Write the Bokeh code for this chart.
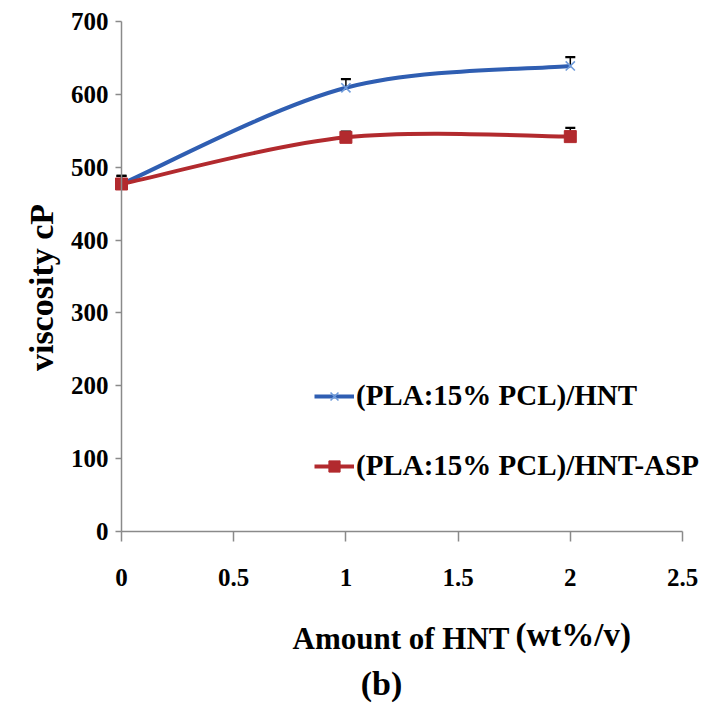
import math
from bokeh.plotting import figure
from bokeh.models import (ColumnDataSource, FixedTicker, Legend, LegendItem, Label,
                          Whisker, TeeHead, Range1d)
from bokeh.embed import file_html
from bokeh.resources import INLINE

# ---- data ----
hnt = [0, 1, 2]
visc_hnt = [477, 609, 639]
err_hnt = [11, 12, 12]
visc_asp = [477, 541, 542]
err_asp = [11, 8, 12]
x_ticks = [0, 0.5, 1, 1.5, 2, 2.5]
x_tick_labels = ["0", "0.5", "1", "1.5", "2", "2.5"]
y_ticks = [0, 100, 200, 300, 400, 500, 600, 700]
series_names = ["(PLA:15% PCL)/HNT", "(PLA:15% PCL)/HNT-ASP"]
x_title = "Amount of HNT"
x_unit = "(wt%/v)"
panel_tag = "(b)"
y_title = "viscosity cP"

BLUE = "#2F5EB2"
BLUE_M = "#6F9BDA"
RED = "#B22A2E"
AXIS = "#8A8A8A"
FONT = "Liberation Serif"

# ---- layout geometry (page pixels) ----
W, H = 703, 703
ORIGIN = 1                       # page offset of the canvas
X0_PX, X25_PX = 122, 683         # page px of x = 0 and x = 2.5
Y0_PX, Y700_PX = 532, 22         # page px of y = 0 and y = 700

def xd(px):   # page pixel -> data x
    return (px - X0_PX) * 2.5 / (X25_PX - X0_PX)

def yd(py):   # page pixel -> data y
    return (Y0_PX - py) * 700 / (Y0_PX - Y700_PX)

p = figure(width=W, height=H, output_backend="svg", toolbar_location=None,
           x_range=Range1d(xd(ORIGIN), xd(ORIGIN + W)),
           y_range=Range1d(yd(ORIGIN + H), yd(ORIGIN)),
           min_border_left=0, min_border_right=0, min_border_top=0,
           min_border_bottom=0)
p.outline_line_color = None
p.grid.visible = False
p.background_fill_color = "white"

def smooth(xs, ys):
    """Excel-like smoothed line: Catmull-Rom control points for bezier segments."""
    n = len(xs)
    out = dict(x0=[], y0=[], x1=[], y1=[], cx0=[], cy0=[], cx1=[], cy1=[])
    for i in range(n - 1):
        ip = max(i - 1, 0)
        inn = min(i + 2, n - 1)
        out["x0"].append(xs[i]); out["y0"].append(ys[i])
        out["x1"].append(xs[i + 1]); out["y1"].append(ys[i + 1])
        out["cx0"].append(xs[i] + (xs[i + 1] - xs[ip]) / 6)
        out["cy0"].append(ys[i] + (ys[i + 1] - ys[ip]) / 6)
        out["cx1"].append(xs[i + 1] - (xs[inn] - xs[i]) / 6)
        out["cy1"].append(ys[i + 1] - (ys[inn] - ys[i]) / 6)
    return ColumnDataSource(out)

items = []
for ys, errs, col, mk, name in [
        (visc_hnt, err_hnt, BLUE, "x", series_names[0]),
        (visc_asp, err_asp, RED, "square", series_names[1])]:
    src = ColumnDataSource(dict(x=hnt, y=ys,
                                hi=[a + b for a, b in zip(ys, errs)]))
    w = Whisker(base="x", lower="y", upper="hi", source=src, dimension="height",
                line_color="black", line_width=1.5, level="underlay",
                upper_head=TeeHead(size=10, line_color="black", line_width=2.2),
                lower_head=None)
    p.add_layout(w)
    bz = p.bezier(x0="x0", y0="y0", x1="x1", y1="y1", cx0="cx0", cy0="cy0",
                  cx1="cx1", cy1="cy1", source=smooth(hnt, ys),
                  line_color=col, line_width=4)
    if mk == "x":
        sc = p.scatter(x="x", y="y", source=src, marker="x", size=13,
                       line_color=BLUE_M, line_width=1.6)
    else:
        sc = p.scatter(x="x", y="y", source=src, marker="square", size=12,
                       fill_color=RED, line_color=RED)
    items.append(LegendItem(label=name, renderers=[bz, sc]))

legend = Legend(items=items, location=(314, 221), orientation="vertical",
                background_fill_alpha=0, border_line_color=None,
                label_text_font=FONT, label_text_font_style="bold",
                label_text_font_size="29px", label_text_color="black",
                glyph_width=40, glyph_height=28, label_height=28,
                spacing=37, padding=0, margin=0, label_standoff=2)
p.add_layout(legend, "center")

# axes (placed at the data origin, inside the frame)
for ax in (p.xaxis[0], p.yaxis[0]):
    ax.axis_line_color = AXIS
    ax.axis_line_width = 1.5
    ax.major_tick_line_color = AXIS
    ax.major_tick_line_width = 1.5
    ax.minor_tick_line_color = None
    ax.major_tick_in = 0
    ax.major_label_text_font = FONT
    ax.major_label_text_font_style = "bold"
    ax.major_label_text_font_size = "25px"
    ax.major_label_text_color = "black"

p.xaxis.fixed_location = 0
p.xaxis.bounds = (0, 2.5)
p.xaxis.ticker = FixedTicker(ticks=x_ticks)
p.xaxis.major_label_overrides = {t: l for t, l in zip(x_ticks, x_tick_labels)}
p.xaxis.major_tick_out = 10
p.xaxis.major_label_standoff = 27

p.yaxis.fixed_location = 0
p.yaxis.bounds = (0, 700)
p.yaxis.ticker = FixedTicker(ticks=y_ticks)
p.yaxis.major_tick_out = 6
p.yaxis.major_label_standoff = 7

# axis titles and panel label
p.add_layout(Label(x=xd(42), y=yd(288), text=y_title, angle=math.pi / 2,
                   text_align="center", text_baseline="middle",
                   text_font=FONT, text_font_style="bold",
                   text_font_size="34px", text_color="black"))
p.add_layout(Label(x=xd(293), y=yd(639), text=x_title, text_baseline="alphabetic",
                   text_font=FONT, text_font_style="bold",
                   text_font_size="31px", text_color="black"))
p.add_layout(Label(x=xd(516), y=yd(635), text=x_unit, text_baseline="alphabetic",
                   text_font=FONT, text_font_style="bold",
                   text_font_size="33px", text_color="black"))
p.add_layout(Label(x=xd(382), y=yd(684), text=panel_tag, text_align="center",
                   text_baseline="alphabetic", text_font=FONT,
                   text_font_style="bold", text_font_size="34px", text_color="black"))

open("out.html", "w").write(file_html(p, INLINE))
